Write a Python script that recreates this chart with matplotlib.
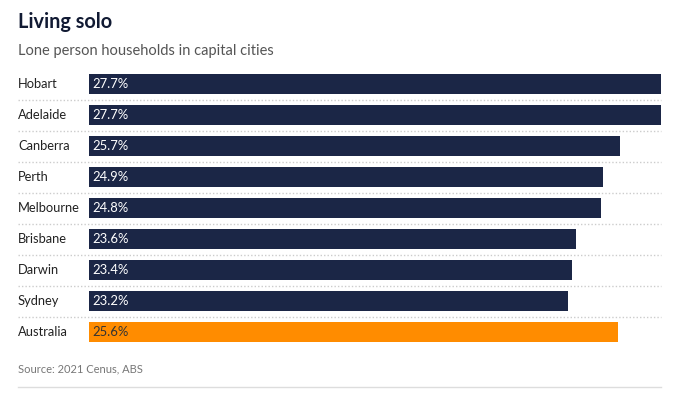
import matplotlib
matplotlib.use("Agg")
import matplotlib.pyplot as plt
from matplotlib.transforms import blended_transform_factory

cities = ["Hobart", "Adelaide", "Canberra", "Perth", "Melbourne",
          "Brisbane", "Darwin", "Sydney", "Australia"]
shares = [27.7, 27.7, 25.7, 24.9, 24.8, 23.6, 23.4, 23.2, 25.6]

navy = "#1b2646"
orange = "#ff8c00"

plt.rcParams["font.family"] = ["Lato", "DejaVu Sans"]

fig = plt.figure(figsize=(6.84, 3.97), dpi=100)
ax = fig.add_axes([89 / 684, 1 - 347.5 / 397, 572 / 684, 279 / 397])

ypos = list(range(len(cities)))
colors = [orange if c == "Australia" else navy for c in cities]
ax.barh(ypos, shares, height=20 / 31, color=colors)

ax.set_xlim(0, max(shares))
ax.set_ylim(len(cities) - 0.5, -0.5)
ax.axis("off")

trans = blended_transform_factory(ax.transAxes, ax.transData)
for y, c, v in zip(ypos, cities, shares):
    ax.text((18 - 89) / 572, y, c, transform=trans,
            ha="left", va="center", fontsize=9.3, color="#222222")
    ax.text(0.14, y, f"{v}%", ha="left", va="center", fontsize=9.4,
            color="#333333" if c == "Australia" else "white")

# dotted separators between rows
for i in range(len(cities) - 1):
    ax.plot([(18 - 89) / 572, 1], [i + 0.5, i + 0.5], transform=trans,
            color="#cccccc", lw=1, ls=(0, (1, 1.5)), clip_on=False)

fig.text(18 / 684, 1 - 22 / 397, "Living solo", fontsize=14.3, fontweight="bold",
         color="#111a33", va="center", ha="left")
fig.text(18 / 684, 1 - 51 / 397, "Lone person households in capital cities", fontsize=10.5,
         color="#555555", va="center", ha="left")
fig.text(18 / 684, 1 - 369 / 397, "Source: 2021 Cenus, ABS", fontsize=8,
         color="#777777", va="center", ha="left")
fig.add_artist(plt.Line2D([18 / 684, 661 / 684], [1 - 387 / 397, 1 - 387 / 397],
                          color="#dddddd", lw=1))

fig.savefig("out.png", dpi=100)
